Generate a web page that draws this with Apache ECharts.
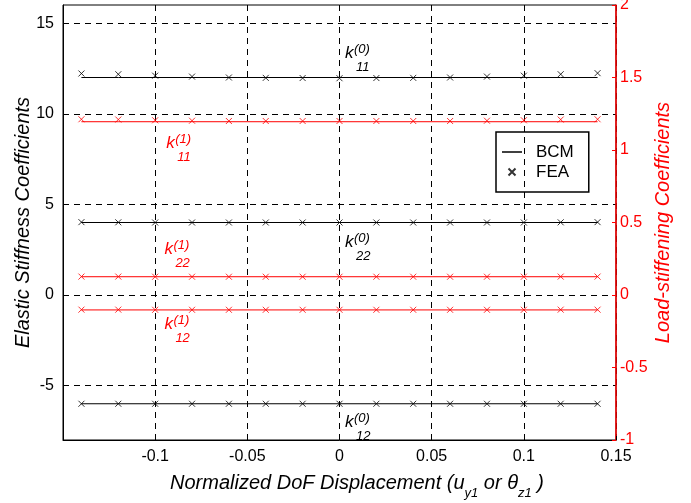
<!DOCTYPE html>
<html>
<head>
<meta charset="utf-8">
<script src="https://cdn.jsdelivr.net/npm/echarts@6/dist/echarts.min.js"></script>
<style>html,body{margin:0;padding:0;background:#fff;}#c{width:691px;height:503px;}</style>
</head>
<body>
<div id="c"></div>
<script>
// ---- data ----
const xVals = [-0.14, -0.12, -0.10, -0.08, -0.06, -0.04, -0.02, 0, 0.02, 0.04, 0.06, 0.08, 0.10, 0.12, 0.14];
// Elastic stiffness (left axis)
const k11_0_BCM = [12, 12, 12, 12, 12, 12, 12, 12, 12, 12, 12, 12, 12, 12, 12];
const k11_0_FEA = [12.22, 12.18, 12.1, 12.05, 12.0, 11.98, 11.97, 11.96, 11.97, 11.98, 12.0, 12.05, 12.1, 12.18, 12.24];
const k22_0_BCM = [4, 4, 4, 4, 4, 4, 4, 4, 4, 4, 4, 4, 4, 4, 4];
const k22_0_FEA = [4.02, 4.01, 4.0, 4.0, 4.0, 4.0, 4.0, 4.0, 4.0, 4.0, 4.0, 4.0, 4.0, 4.01, 4.02];
const k12_0_BCM = [-6, -6, -6, -6, -6, -6, -6, -6, -6, -6, -6, -6, -6, -6, -6];
const k12_0_FEA = [-6.0, -6.0, -6.0, -6.0, -6.0, -6.0, -6.0, -6.0, -6.0, -6.0, -6.0, -6.0, -6.0, -6.0, -6.0];
// Load-stiffening (right axis)
const k11_1_BCM = [1.195, 1.195, 1.195, 1.195, 1.195, 1.195, 1.195, 1.195, 1.195, 1.195, 1.195, 1.195, 1.195, 1.195, 1.195];
const k11_1_FEA = [1.212, 1.21, 1.205, 1.202, 1.2, 1.2, 1.2, 1.2, 1.2, 1.2, 1.2, 1.202, 1.205, 1.21, 1.212];
const k22_1_BCM = [0.126, 0.126, 0.126, 0.126, 0.126, 0.126, 0.126, 0.126, 0.126, 0.126, 0.126, 0.126, 0.126, 0.126, 0.126];
const k22_1_FEA = [0.127, 0.127, 0.126, 0.126, 0.126, 0.126, 0.126, 0.126, 0.126, 0.126, 0.126, 0.126, 0.126, 0.127, 0.127];
const k12_1_BCM = [-0.103, -0.103, -0.103, -0.103, -0.103, -0.103, -0.103, -0.103, -0.103, -0.103, -0.103, -0.103, -0.103, -0.103, -0.103];
const k12_1_FEA = [-0.101, -0.101, -0.102, -0.102, -0.102, -0.102, -0.102, -0.102, -0.102, -0.102, -0.102, -0.102, -0.102, -0.101, -0.101];
// tick labels
const leftTicks = [-5, 0, 5, 10, 15];
// annotation labels: [superscript, subscript, x, left-axis y, colour]
const annLabels = [
  ['(0)', '11', 0.003, 12.85, 'black'],
  ['(0)', '22', 0.003, 2.45, 'black'],
  ['(0)', '12', 0.003, -7.5, 'black'],
  ['(1)', '11', -0.094, 7.9, 'red'],
  ['(1)', '22', -0.095, 2.05, 'red'],
  ['(1)', '12', -0.095, -2.1, 'red']
];

const FONT = 'Liberation Sans, Arial, Helvetica, sans-serif';
const xPath = 'path://M0,0L10,10M10,0L0,10';
const pair = (ys) => xVals.map((x, i) => [x, ys[i]]);

function lineS(ys, color, yi) {
  return { name: 'BCM', type: 'line', yAxisIndex: yi, data: pair(ys), symbol: 'none',
    lineStyle: { color: color, width: 1 }, itemStyle: { color: color }, silent: true, z: 3 };
}
function feaS(ys, color, yi) {
  return { name: 'FEA', type: 'scatter', yAxisIndex: yi, data: pair(ys), symbol: xPath, symbolSize: 6,
    itemStyle: { color: 'none', borderColor: color, borderWidth: 1 }, silent: true, z: 4 };
}

const chart = echarts.init(document.getElementById('c'), null, { renderer: 'canvas' });
const option = {
  animation: false,
  backgroundColor: '#fff',
  textStyle: { fontFamily: FONT },
  grid: { left: 63, top: 5, right: 75, bottom: 63, containLabel: false, outerBoundsMode: 'none',
    show: true, borderColor: '#000', borderWidth: 1, backgroundColor: 'transparent' },
  legend: {
    orient: 'vertical', left: 496, top: 132,
    data: [{ name: 'BCM', icon: 'path://M0,0L20,0L20,1.5L0,1.5Z', itemStyle: { color: '#000' } }, { name: 'FEA' }],
    itemWidth: 20, itemHeight: 7, itemGap: 0, symbolKeepAspect: true,
    borderColor: '#000', borderWidth: 1.5, padding: [10, 15, 10, 6],
    textStyle: { fontSize: 17, fontFamily: FONT, color: '#000', lineHeight: 20, padding: [0, 0, 0, 9] },
    selectedMode: false
  },
  xAxis: {
    type: 'value', min: -0.15, max: 0.15, interval: 0.05,
    axisLine: { onZero: false, lineStyle: { color: '#000', width: 1 } },
    axisTick: { inside: true, length: 4, lineStyle: { color: '#000' } },
    axisLabel: { color: '#000', fontSize: 16, fontFamily: FONT, margin: 9,
      formatter: (v) => (Math.abs(v + 0.15) < 1e-9 ? '' : String(Math.round(v * 100) / 100)) },
    splitLine: { show: true, lineStyle: { color: '#000', type: [6, 5], width: 1 } },
    name: '{m|Normalized DoF Displacement (u}{s|y1}{m| or θ}{s|z1}{m| )}',
    nameLocation: 'middle', nameGap: 32, nameMoveOverlap: false,
    nameTextStyle: { fontSize: 20, fontStyle: 'italic', color: '#000', fontFamily: FONT, padding: [0, 0, 0, 35],
      rich: {
        m: { fontSize: 20, fontStyle: 'italic', fontFamily: FONT, color: '#000', verticalAlign: 'middle', lineHeight: 22 },
        s: { fontSize: 13, fontStyle: 'italic', fontFamily: FONT, color: '#000', verticalAlign: 'middle', lineHeight: 14, padding: [21, 0, 0, 0] }
      } }
  },
  yAxis: [
    {
      type: 'value', min: -8, max: 16, position: 'left',
      axisLine: { onZero: false, lineStyle: { color: '#000', width: 1 } },
      axisTick: { inside: true, length: 4, customValues: leftTicks, lineStyle: { color: '#000' } },
      axisLabel: { color: '#000', fontSize: 16, fontFamily: FONT, margin: 9, customValues: leftTicks },
      splitLine: { show: true, lineStyle: { color: '#000', type: [6, 5], width: 1 } },
      name: 'Elastic Stiffness Coefficients', nameLocation: 'middle', nameGap: 30, nameRotate: 90, nameMoveOverlap: false,
      nameTextStyle: { fontSize: 20, fontStyle: 'italic', color: '#000', fontFamily: FONT }
    },
    {
      type: 'value', min: -1, max: 2, interval: 0.5, position: 'right',
      axisLine: { show: true, onZero: false, lineStyle: { color: '#ff0000', width: 1.5 } },
      axisTick: { show: true, inside: true, length: 4, lineStyle: { color: '#ff0000' } },
      axisLabel: { color: '#ff0000', fontSize: 16, fontFamily: FONT, margin: 4 },
      splitLine: { show: false },
      name: 'Load-stiffening Coefficients', nameLocation: 'middle', nameGap: 37, nameRotate: 90, nameMoveOverlap: false,
      nameTextStyle: { fontSize: 20, fontStyle: 'italic', color: '#ff0000', fontFamily: FONT }
    }
  ],
  series: [
    lineS(k11_0_BCM, '#000', 0), feaS(k11_0_FEA, '#000', 0),
    lineS(k22_0_BCM, '#000', 0), feaS(k22_0_FEA, '#000', 0),
    lineS(k12_0_BCM, '#000', 0), feaS(k12_0_FEA, '#000', 0),
    lineS(k11_1_BCM, '#ff0000', 1), feaS(k11_1_FEA, '#ff0000', 1),
    lineS(k22_1_BCM, '#ff0000', 1), feaS(k22_1_FEA, '#ff0000', 1),
    lineS(k12_1_BCM, '#ff0000', 1), feaS(k12_1_FEA, '#ff0000', 1)
  ]
};
chart.setOption(option);

// annotations k^(n)_ij placed at data coordinates
const gfx = [];
annLabels.forEach(([sup, sub, x, y, col]) => {
  const p = chart.convertToPixel({ xAxisIndex: 0, yAxisIndex: 0 }, [x, y]);
  gfx.push({ type: 'text', x: p[0], y: p[1], silent: true, z: 10,
    style: { text: 'k', fontSize: 17, fontStyle: 'italic', fontFamily: FONT, fill: col, textAlign: 'left', verticalAlign: 'bottom' } });
  gfx.push({ type: 'text', x: p[0] + 9, y: p[1] - 19, silent: true, z: 10,
    style: { text: sup, fontSize: 13, fontStyle: 'italic', fontFamily: FONT, fill: col, textAlign: 'left', verticalAlign: 'top' } });
  gfx.push({ type: 'text', x: p[0] + 11, y: p[1] - 1, silent: true, z: 10,
    style: { text: sub, fontSize: 13, fontStyle: 'italic', fontFamily: FONT, fill: col, textAlign: 'left', verticalAlign: 'top' } });
});
chart.setOption({ graphic: gfx });
</script>
</body>
</html>
